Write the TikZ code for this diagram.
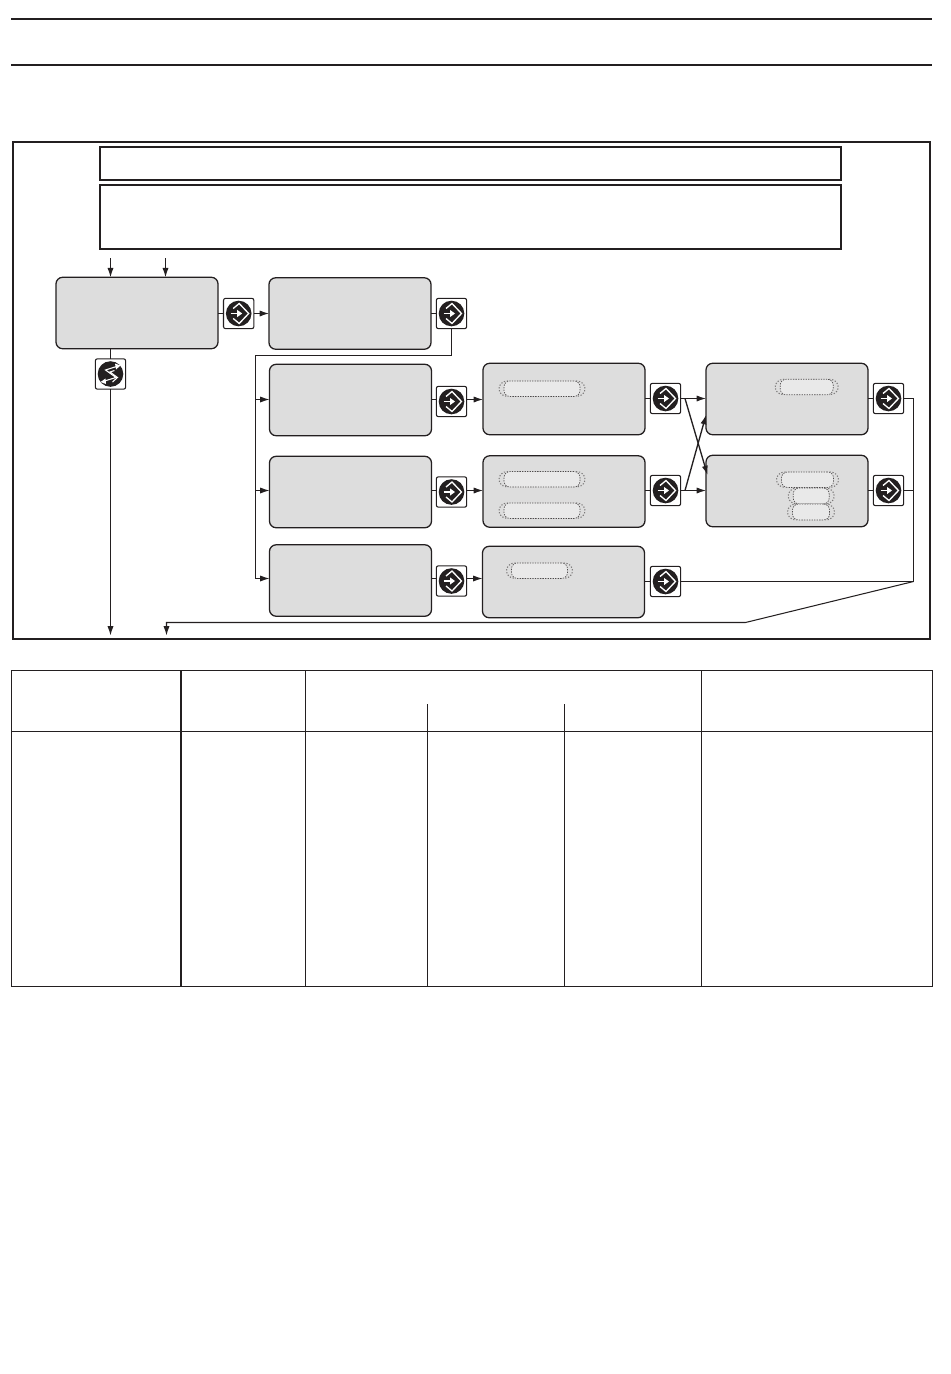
\documentclass[tikz,border=0pt]{standalone}
\usetikzlibrary{arrows.meta}
\definecolor{ink}{HTML}{231F20}
\definecolor{panel}{HTML}{DDDDDD}
\definecolor{slot}{HTML}{E9E9E9}
\tikzset{
  x=0.75pt,y=-0.75pt,
  >={Latex[length=7pt,width=4.6pt]},
  plainbox/.style={draw=ink,line width=1.5pt,inner sep=0pt,outer sep=0pt,fill=white},
  panelbox/.style={draw=ink,line width=0.95pt,fill=panel,rounded corners=5pt,inner sep=0pt,outer sep=0pt,minimum width=121.5pt,minimum height=53.6pt},
  keybox/.style={draw=ink,line width=0.8pt,fill=white,rounded corners=1.6pt,inner sep=0pt,outer sep=0pt,minimum width=22.8pt,minimum height=22.8pt},
  slotbox/.style={draw=ink!80,line width=0.5pt,dash pattern=on 1pt off 0.9pt,fill=slot,rounded corners=4.5pt,inner sep=0pt,outer sep=0pt,minimum height=11.6pt},
  slotend/.style={draw=ink!60,line width=0.8pt,dash pattern=on 0.9pt off 1.3pt},
  wire/.style={draw=ink,line width=0.78pt},
  arrowwire/.style={wire,->},
  rule/.style={draw=ink,line width=1.5pt},
  grid/.style={draw=ink,line width=0.9pt},
  keysym/.style={draw=white,line width=1pt},
}
\newcommand{\keyE}[3]{%
  \node[keybox] (#1) at (#2,#3) {};
  \begin{scope}[shift={(#1.center)}]
    \fill[ink] (0,0) circle[radius=9.6pt];
    \draw[keysym,line join=miter] (-5.5,-5) -- (0.5,-10) -- (10,0) -- (0.5,10) -- (-5.5,5);
    \draw[keysym] (-8,0) -- (0,0);
    \fill[white] (3.5,0) -- (-1.5,-3.6) -- (-1.5,3.6) -- cycle;
  \end{scope}}
\newcommand{\keyS}[3]{%
  \node[keybox] (#1) at (#2,#3) {};
  \begin{scope}[shift={(#1.center)}]
    \fill[ink] (0,0) circle[radius=9.6pt];
    \draw[keysym,line width=0.8pt] (6,-7.5) -- (-5,-4) -- (5.5,3.5) -- (-6,7);
    \draw[keysym,line width=0.8pt] (4,-3.5) -- (-0.5,-2) -- (7,3.5) -- (2,8);
    \fill[white] (10,-8.5) -- (4.5,-10.5) -- (5.5,-4.5) -- cycle;
    \fill[white] (-10,8) -- (-5,4.5) -- (-4.5,10) -- cycle;
  \end{scope}}
\newcommand{\slotmark}[5]{%
  \node[slotbox,minimum width=#4*0.75pt,minimum height=#5*0.75pt] (#1) at (#2,#3) {};
  \draw[slotend] ([xshift=3pt]#1.north west) .. controls ([xshift=-6pt]#1.north west) and ([xshift=-6pt]#1.south west) .. ([xshift=3pt]#1.south west);
  \draw[slotend] ([xshift=-3pt]#1.north east) .. controls ([xshift=6pt]#1.north east) and ([xshift=6pt]#1.south east) .. ([xshift=-3pt]#1.south east);}
\begin{document}
\begin{tikzpicture}
\useasboundingbox (0,0) rectangle (950,1374);
\fill[white] (0,0) rectangle (950,1374);
% page rules
\draw[rule] (11,19) -- (932,19);
\draw[rule] (11,65) -- (932,65);
% frame and banners
\node[plainbox,minimum width=687.75pt,minimum height=372.75pt] (frame) at (471.5,390.5) {};
\node[plainbox,minimum width=555.75pt,minimum height=24.75pt] (bannerA) at (470.5,163.5) {};
\node[plainbox,minimum width=555.75pt,minimum height=48pt] (bannerB) at (470.5,217) {};
% panels
\node[panelbox] (a) at (137,313) {};
\node[panelbox] (b) at (350,313.5) {};
\node[panelbox] (l1) at (350.5,400) {};
\node[panelbox] (l2) at (350.5,492) {};
\node[panelbox] (l3) at (350.5,580.5) {};
\node[panelbox] (m1) at (564,399) {};
\node[panelbox] (m2) at (564,491.5) {};
\node[panelbox] (m3) at (563.5,582) {};
\node[panelbox] (r1) at (787,399) {};
\node[panelbox] (r2) at (787,491) {};
% slots
\slotmark{s1}{542}{388.7}{76}{15.5}
\slotmark{s2}{542}{479.3}{76}{15.5}
\slotmark{s3}{542}{510.7}{76}{15.5}
\slotmark{s4}{539.5}{570.7}{56}{15.5}
\slotmark{s5}{806.7}{387}{53}{15.5}
\slotmark{s6}{807.5}{479.7}{52}{15.5}
\slotmark{s7}{811.2}{496}{36}{16}
\slotmark{s8}{811}{512}{37}{16}
% keys
\keyE{ka}{238.7}{313.5}
\keyS{ks}{110.5}{374}
\keyE{kb}{451.5}{313.5}
\keyE{kl1}{451.5}{401.5}
\keyE{kl2}{451.5}{492}
\keyE{kl3}{451.5}{581}
\keyE{km1}{665.5}{398.5}
\keyE{km2}{665.5}{490.5}
\keyE{km3}{665.5}{581.5}
\keyE{kr1}{888.5}{398.5}
\keyE{kr2}{888.5}{490.5}
% named free ends and junctions
\coordinate (ina) at (110.5,258);
\coordinate (inb) at (165.5,258);
\coordinate (outa) at (110.5,635.5);
\coordinate (outb) at (166.5,635.5);
\coordinate (jtop) at (255.5,355.5);
\coordinate (y1) at (0,399.5);
\coordinate (y2) at (0,490.5);
\coordinate (y3) at (0,578.5);
\coordinate (rail) at (913.5,581.5);
\coordinate (bend) at (745.5,622.5);
\coordinate (xa) at (685,398.5);
\coordinate (xb) at (685,490.5);
\coordinate (xat) at (707.5,475);
\coordinate (xbt) at (706,415);
% connectors
\draw[arrowwire] (ina) -- (ina |- a.north);
\draw[arrowwire] (inb) -- (inb |- a.north);
\draw[wire] (a.south -| ks) -- (ks.north);
\draw[arrowwire] (ks.south) -- (outa);
\draw[wire] (a.east |- ka) -- (ka.west);
\draw[arrowwire] (ka.east) -- (b.west |- ka);
\draw[wire] (b.east |- kb) -- (kb.west);
\draw[wire] (kb.south) -- (kb.south |- jtop) -- (jtop) -- (jtop |- y3);
\draw[arrowwire] (jtop |- y1) -- (l1.west |- y1);
\draw[arrowwire] (jtop |- y2) -- (l2.west |- y2);
\draw[arrowwire] (jtop |- y3) -- (l3.west |- y3);
\draw[wire] (l1.east |- y1) -- (kl1.west |- y1);
\draw[wire] (l2.east |- y2) -- (kl2.west |- y2);
\draw[wire] (l3.east |- y3) -- (kl3.west |- y3);
\draw[arrowwire] (kl1.east |- y1) -- (m1.west |- y1);
\draw[arrowwire] (kl2.east |- y2) -- (m2.west |- y2);
\draw[arrowwire] (kl3.east |- y3) -- (m3.west |- y3);
\draw[wire] (m1.east |- km1) -- (km1.west);
\draw[wire] (m2.east |- km2) -- (km2.west);
\draw[wire] (m3.east |- km3) -- (km3.west);
\draw[arrowwire] (km1.east) -- (r1.west |- km1);
\draw[arrowwire] (km2.east) -- (r2.west |- km2);
\draw[arrowwire,line width=1pt] (xa) -- (xat);
\draw[arrowwire,line width=1pt] (xb) -- (xbt);
\draw[wire] (r1.east |- kr1) -- (kr1.west);
\draw[wire] (r2.east |- kr2) -- (kr2.west);
\draw[wire] (kr1.east) -- (kr1.east -| rail) -- (rail);
\draw[wire] (kr2.east) -- (kr2.east -| rail);
\draw[wire] (km3.east) -- (rail);
\draw[arrowwire] (rail) -- (bend) -- (bend -| outb) -- (outb);
% table
\draw[grid] (11.7,670.5) rectangle (932.7,986.5);
\draw[grid] (11.7,731.3) -- (932.7,731.3);
\draw[draw=ink,line width=1.9pt] (181,670.5) -- (181,986.5);
\draw[grid] (305.5,670.5) -- (305.5,986.5);
\draw[grid] (427.5,704) -- (427.5,986.5);
\draw[grid] (564.5,704) -- (564.5,986.5);
\draw[grid] (701.5,670.5) -- (701.5,986.5);
\end{tikzpicture}
\end{document}
